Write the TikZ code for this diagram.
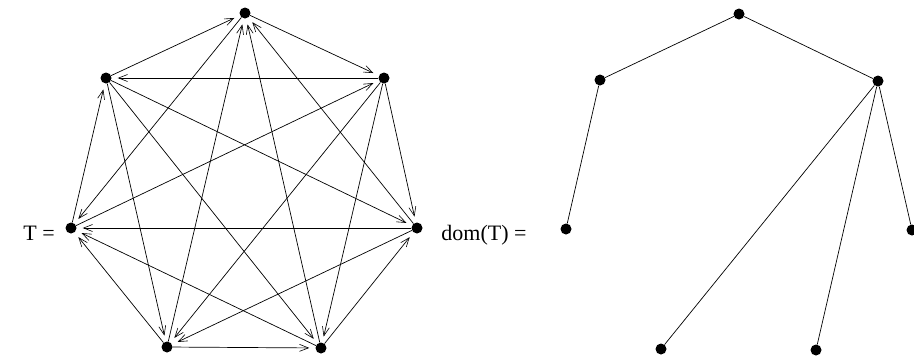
\documentclass[tikz,border=0pt]{standalone}
\usepackage{fontspec}
\setmainfont{Liberation Serif}
\usetikzlibrary{arrows.meta}

\begin{document}
\begin{tikzpicture}[
  x=1pt,y=-1pt,
  vtx/.style={circle,fill=black,draw=none,inner sep=0pt,minimum size=11pt},
  lbl/.style={anchor=base,font=\fontsize{22}{26}\selectfont,inner sep=0pt},
  arr/.style={-{Straight Barb[length=9pt,width=7pt,line width=0.6pt]},line width=0.7pt,shorten >=6pt},
  edge/.style={line width=0.7pt}
]
\useasboundingbox (0,0) rectangle (914,360);
% tournament T
\node[vtx] (a) at (245,13) {};
\node[vtx] (b) at (106,78) {};
\node[vtx] (c) at (384,78) {};
\node[vtx] (d) at (71,228) {};
\node[vtx] (e) at (417,228) {};
\node[vtx] (f) at (167,347) {};
\node[vtx] (g) at (321,348) {};
\node[lbl] (tname) at (39,240) {T =};
\draw[arr] (b) -- (a);
\draw[arr] (a) -- (c);
\draw[arr] (a) -- (d);
\draw[arr] (f) -- (a);
\draw[arr] (g) -- (a);
\draw[arr] (e) -- (a);
\draw[arr] (c) -- (b);
\draw[arr] (d) -- (b);
\draw[arr] (b) -- (e);
\draw[arr] (b) -- (f);
\draw[arr] (b) -- (g);
\draw[arr] (d) -- (c);
\draw[arr] (c) -- (e);
\draw[arr] (c) -- (f);
\draw[arr] (c) -- (g);
\draw[arr] (e) -- (d);
\draw[arr] (f) -- (d);
\draw[arr] (g) -- (d);
\draw[arr] (e) -- (f);
\draw[arr] (g) -- (e);
\draw[arr] (f) -- (g);
% dominator tree dom(T)
\node[lbl] (domname) at (484,240) {dom(T) =};
\node[vtx] (root) at (739,14) {};
\node[vtx] (left) at (600,80) {};
\node[vtx] (right) at (878,81) {};
\node[vtx] (leafa) at (566,229) {};
\node[vtx] (leafb) at (912,230) {};
\node[vtx] (leafc) at (816,350) {};
\node[vtx] (leafd) at (661,349) {};
\draw[edge] (root) -- (left);
\draw[edge] (root) -- (right);
\draw[edge] (left) -- (leafa);
\draw[edge] (right) -- (leafb);
\draw[edge] (right) -- (leafc);
\draw[edge] (right) -- (leafd);
\end{tikzpicture}
\end{document}
